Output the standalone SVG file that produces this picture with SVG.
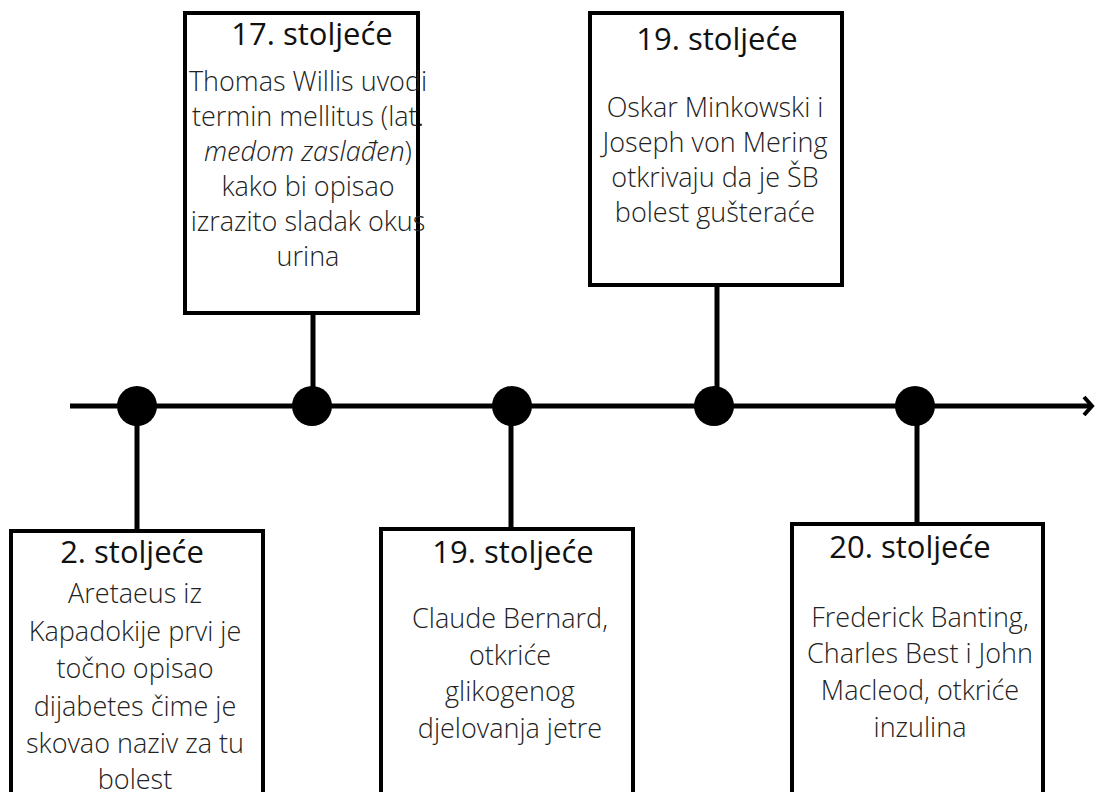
<svg xmlns="http://www.w3.org/2000/svg" width="1095" height="792" viewBox="0 0 1095 792">
<style>
.box{fill:#fff;stroke:#000;stroke-width:4}
.stem{stroke:#000;stroke-width:5}
.dot{fill:#000}
.h{font-family:"Open Sans","Noto Sans",sans-serif;font-size:31px;fill:#111;text-anchor:middle}
.b{font-family:"Open Sans","Noto Sans",sans-serif;font-size:27px;font-weight:300;fill:#222;text-anchor:middle}
</style>
<rect width="1095" height="792" fill="#fff"/>
<g id="connectors">
<line x1="70" y1="406" x2="1091" y2="406" class="stem"/>
<polyline points="1084,397 1092,406 1084,415" fill="none" stroke="#000" stroke-width="4"/>
<line x1="137" y1="406" x2="137" y2="531" class="stem"/>
<line x1="313" y1="313" x2="313" y2="406" class="stem"/>
<line x1="511" y1="406" x2="511" y2="529" class="stem"/>
<line x1="717" y1="285" x2="717" y2="406" class="stem"/>
<line x1="917" y1="406" x2="917" y2="524" class="stem"/>
<circle cx="137" cy="406" r="20" class="dot"/>
<circle cx="312" cy="406" r="20" class="dot"/>
<circle cx="512" cy="406" r="20" class="dot"/>
<circle cx="714" cy="406" r="20" class="dot"/>
<circle cx="915" cy="406" r="20" class="dot"/>
</g>
<g id="node-2st">
<rect x="11" y="531" width="252" height="280" class="box"/>
<text x="132" y="563" class="h">2. stoljeće</text>
<text class="b"><tspan x="135" y="603">Aretaeus iz</tspan><tspan x="135" y="641">Kapadokije prvi je</tspan><tspan x="135" y="678">točno opisao</tspan><tspan x="135" y="716">dijabetes čime je</tspan><tspan x="135" y="753">skovao naziv za tu</tspan><tspan x="135" y="789">bolest</tspan></text>
</g>
<g id="node-17st">
<rect x="185" y="13" width="233" height="300" class="box"/>
<text x="312" y="45" class="h">17. stoljeće</text>
<text class="b"><tspan x="308" y="91">Thomas Willis uvodi</tspan><tspan x="308" y="126">termin mellitus (lat.</tspan><tspan x="308" y="161"><tspan font-style="italic">medom zaslađen</tspan>)</tspan><tspan x="308" y="196">kako bi opisao</tspan><tspan x="308" y="231">izrazito sladak okus</tspan><tspan x="308" y="266">urina</tspan></text>
</g>
<g id="node-19st-a">
<rect x="381" y="529" width="252" height="280" class="box"/>
<text x="513" y="563" class="h">19. stoljeće</text>
<text class="b"><tspan x="510" y="628">Claude Bernard,</tspan><tspan x="510" y="665">otkriće</tspan><tspan x="510" y="701">glikogenog</tspan><tspan x="510" y="738">djelovanja jetre</tspan></text>
</g>
<g id="node-19st-b">
<rect x="590" y="13" width="252" height="272" class="box"/>
<text x="717" y="50" class="h">19. stoljeće</text>
<text class="b"><tspan x="715" y="117">Oskar Minkowski i</tspan><tspan x="715" y="152">Joseph von Mering</tspan><tspan x="715" y="187">otkrivaju da je ŠB</tspan><tspan x="715" y="222">bolest gušteraće</tspan></text>
</g>
<g id="node-20st">
<rect x="792" y="524" width="251" height="290" class="box"/>
<text x="910" y="558" class="h">20. stoljeće</text>
<text class="b"><tspan x="920" y="627">Frederick Banting,</tspan><tspan x="920" y="663">Charles Best i John</tspan><tspan x="920" y="700">Macleod, otkriće</tspan><tspan x="920" y="737">inzulina</tspan></text>
</g>
</svg>
